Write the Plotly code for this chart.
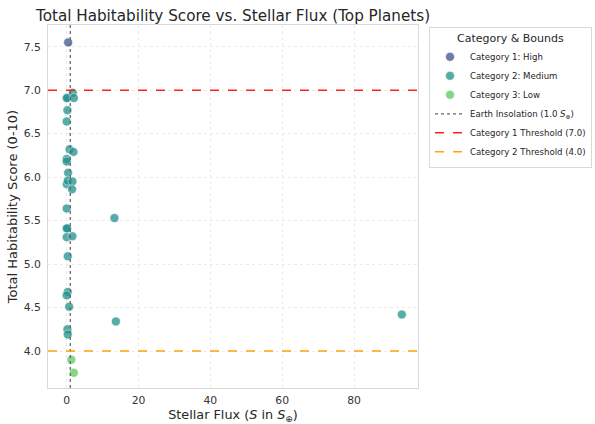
import plotly.graph_objects as go

# Data
cat1_flux = [0.4]
cat1_score = [7.55]

cat2_flux = [0.0, 0.1, 1.7, 2.0, 0.2, 0.0, 0.8, 1.9, 0.0, 0.0, 0.4, 0.0, 0.3, 1.6, 1.5,
             0.0, 13.3, 0.0, 0.1, 0.0, 1.6, 0.3, 0.3, 0.0, 0.7, 13.7, 93.3, 0.2, 0.3]
cat2_score = [6.91, 6.91, 6.97, 6.91, 6.77, 6.64, 6.32, 6.29, 6.21, 6.18, 6.05, 5.92, 5.96, 5.95, 5.86,
              5.64, 5.53, 5.41, 5.41, 5.31, 5.32, 5.09, 4.68, 4.64, 4.51, 4.34, 4.42, 4.25, 4.19]

cat3_flux = [1.3, 2.0]
cat3_score = [3.90, 3.75]

earth_flux = 1.0
cat1_threshold = 7.0
cat2_threshold = 4.0

x_ticks = [0, 20, 40, 60, 80]
y_ticks = [4.0, 4.5, 5.0, 5.5, 6.0, 6.5, 7.0, 7.5]

colors = ["#3b528b", "#21918c", "#5ec962"]

fig = go.Figure()
for name, xs, ys, c, rank in [
    ("Category 1: High", cat1_flux, cat1_score, colors[0], 1),
    ("Category 2: Medium", cat2_flux, cat2_score, colors[1], 2),
    ("Category 3: Low", cat3_flux, cat3_score, colors[2], 3),
]:
    fig.add_trace(go.Scatter(
        x=xs, y=ys, mode="markers", name=name, legendrank=rank,
        marker=dict(size=9, color=c, opacity=0.75, line=dict(color="white", width=0.6)),
    ))

fig.add_vline(x=earth_flux, line=dict(color="#666666", width=1.3, dash="dot"),
              showlegend=True, name="Earth Insolation (1.0 <i>S</i><sub>⊕</sub>)", legendrank=4)
fig.add_hline(y=cat1_threshold, line=dict(color="#ff2020", width=1.5, dash="dash"),
              showlegend=True, name="Category 1 Threshold (7.0)", legendrank=5)
fig.add_hline(y=cat2_threshold, line=dict(color="orange", width=1.5, dash="dash"),
              showlegend=True, name="Category 2 Threshold (4.0)", legendrank=6)

axis_common = dict(
    showgrid=True, gridcolor="#ebebeb", griddash="dot", gridwidth=1,
    showline=True, linecolor="#d9d9d9", linewidth=1, mirror=True,
    zeroline=False, ticks="",
    tickfont=dict(size=10.8, color="#333333"),
)

fig.update_layout(
    width=595, height=424,
    margin=dict(l=48, r=177, t=25, b=36, autoexpand=False),
    paper_bgcolor="white", plot_bgcolor="white",
    font=dict(family="DejaVu Sans", color="#262626"),
    title=dict(text="Total Habitability Score vs. Stellar Flux (Top Planets)",
               x=(48 + 418) / 2 / 595, xanchor="center", y=0.963, yanchor="middle",
               font=dict(size=15.2, color="#262626")),
    xaxis=dict(range=[-5.2, 97.8], tickvals=x_ticks, ticklabelstandoff=2,
               title=dict(text="Stellar Flux (<i>S</i> in <i>S</i><sub>⊕</sub>)",
                          font=dict(size=12.8), standoff=4), **axis_common),
    yaxis=dict(range=[3.575, 7.75], tickvals=y_ticks, tickformat=".1f", ticklabelstandoff=4,
               title=dict(text="Total Habitability Score (0-10)", font=dict(size=13), standoff=3),
               **axis_common),
    legend=dict(
        title=dict(text="Category & Bounds", font=dict(size=11, color="#262626"), side="top center"),
        xref="container", yref="container",
        x=592 / 595, y=1 - 27 / 424, xanchor="right", yanchor="top",
        bordercolor="#d9d9d9", borderwidth=1, bgcolor="white",
        font=dict(size=8.6, color="#262626"), tracegroupgap=0, itemwidth=30,
    ),
)

fig.write_html("out.html")
